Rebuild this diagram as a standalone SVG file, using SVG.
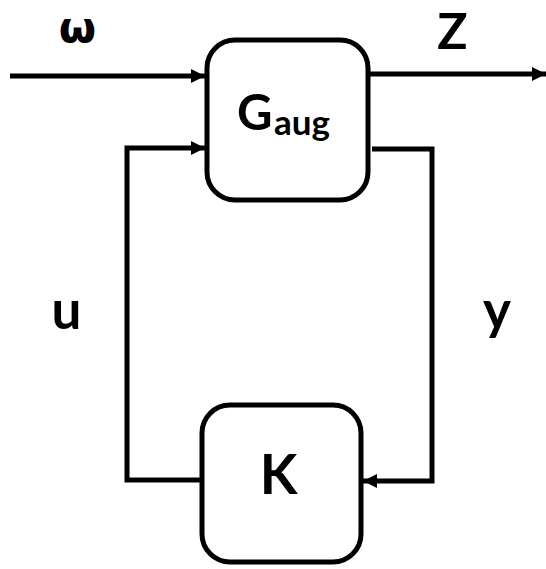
<svg xmlns="http://www.w3.org/2000/svg" width="546" height="569" viewBox="0 0 546 569">
<defs>
<style>
.box{fill:#fff;stroke:#000;stroke-width:5}
.wire{fill:none;stroke:#000;stroke-width:5;stroke-linejoin:miter}
.lbl{font-family:Lato,"Open Sans","DejaVu Sans",sans-serif;font-weight:bold;fill:#000}
.greek{font-family:"DejaVu Sans",sans-serif}
</style>
<marker id="ah" viewBox="0 0 10 10" refX="10" refY="5" markerWidth="14" markerHeight="15" markerUnits="userSpaceOnUse" orient="auto">
<path d="M0,0 L10,5 L0,10 z" fill="#000"/>
</marker>
</defs>
<rect width="546" height="569" fill="#fff"/>
<g id="connectors">
<path class="wire" d="M10,76 L205,76" marker-end="url(#ah)"/>
<path class="wire" d="M370,74 L546,74" marker-end="url(#ah)"/>
<path class="wire" d="M207,480 L127,480 L127,148 L205,148" marker-end="url(#ah)"/>
<path class="wire" d="M372,149 L432,149 L432,481 L363,481" marker-end="url(#ah)"/>
</g>
<g id="G">
<rect class="box" x="207" y="40" width="161" height="160" rx="28"/>
<text class="lbl" x="237" y="130" font-size="49">G</text>
<text class="lbl" x="274" y="135" font-size="35">aug</text>
</g>
<g id="K">
<rect class="box" x="202" y="405" width="159" height="157" rx="28"/>
<text class="lbl" x="278.5" y="494" font-size="55" text-anchor="middle">K</text>
</g>
<g id="labels">
<text class="lbl greek" x="77.5" y="42" font-size="43" text-anchor="middle">ω</text>
<text class="lbl" x="452.5" y="49" font-size="50" text-anchor="middle">Z</text>
<text class="lbl" x="66.5" y="329" font-size="53" text-anchor="middle">u</text>
<text class="lbl" x="497" y="329" font-size="53" text-anchor="middle">y</text>
</g>
</svg>
